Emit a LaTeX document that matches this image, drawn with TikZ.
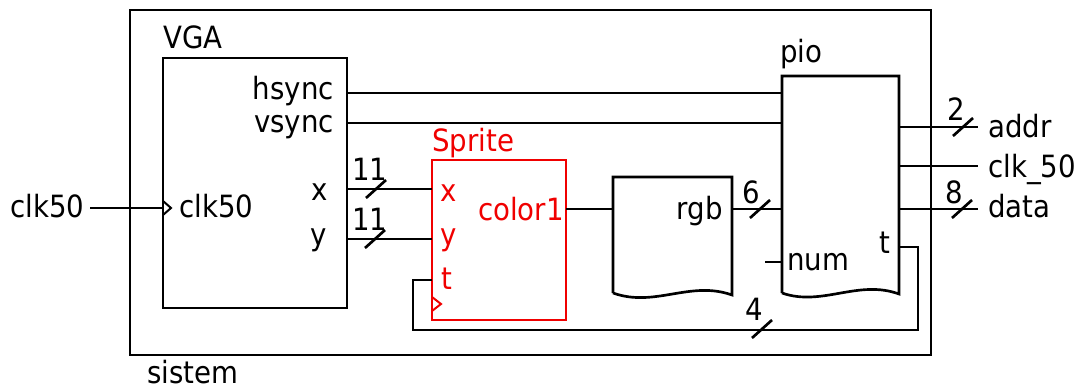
\documentclass[tikz,border=0pt]{standalone}
\usepackage{fontspec}
\setmainfont{DejaVu Sans}[FakeStretch=0.9]
\usetikzlibrary{fit}
\definecolor{spred}{RGB}{240,0,0}
\begin{document}
\begin{tikzpicture}[x=0.75pt,y=-0.75pt,
  wire/.style={line width=2pt},
  blk/.style={draw, line width=2pt, inner sep=0pt},
  lbl/.style={inner sep=0pt, font=\fontsize{23}{27}\selectfont},
  slash/.style={line width=2pt}]
\useasboundingbox (0,0) rectangle (1084,389);
% ---------- blocks ----------
\coordinate (sys-nw) at (130,10); \coordinate (sys-se) at (931,355);
\node[blk, line width=2.2pt, fit=(sys-nw)(sys-se)] (sys) {};
\coordinate (vga-nw) at (163,58); \coordinate (vga-se) at (347,308);
\node[blk, fit=(vga-nw)(vga-se)] (vga) {};
\coordinate (spr-nw) at (432,160); \coordinate (spr-se) at (566,320);
\node[blk, draw=spred, fit=(spr-nw)(spr-se)] (spr) {};
% memory block rgb
\coordinate (rgb-nw) at (613,177); \coordinate (rgb-ne) at (732,177);
\coordinate (rgb-sw) at (613,293); \coordinate (rgb-se) at (732,295);
\draw[wire, line join=miter] (rgb-sw) -- (rgb-nw) -- (rgb-ne) -- (rgb-se)
  .. controls (690,280) and (655,308) .. (rgb-sw);
% pio block
\coordinate (pio-nw) at (782,76); \coordinate (pio-ne) at (899,76);
\coordinate (pio-sw) at (782,293); \coordinate (pio-se) at (899,294);
\draw[wire, line join=miter] (pio-sw) -- (pio-nw) -- (pio-ne) -- (pio-se)
  .. controls (858,279) and (822,307) .. (pio-sw);
% ---------- labels ----------
\node[lbl, anchor=base west] (t-sys) at (147,383) {sistem};
\node[lbl, anchor=base west] (t-vga) at (163,48) {VGA};
\node[lbl, anchor=base west] (t-clkin) at (10,217) {clk50};
\node[lbl, anchor=base west] (t-clk) at (179,217) {clk50};
\node[lbl, anchor=base east] (t-hs) at (334,99) {hsync};
\node[lbl, anchor=base east] (t-vs) at (334,132) {vsync};
\node[lbl, anchor=base] (t-x) at (320,200) {x};
\node[lbl, anchor=base] (t-y) at (319,245) {y};
\node[lbl, anchor=base west] (t-11a) at (352,180) {11};
\node[lbl, anchor=base west] (t-11b) at (352,230) {11};
\node[lbl, anchor=base west, text=spred] (t-spr) at (432,151) {Sprite};
\node[lbl, anchor=base west, text=spred] (t-sx) at (440,201) {x};
\node[lbl, anchor=base west, text=spred] (t-sy) at (440,245) {y};
\node[lbl, anchor=base west, text=spred] (t-st) at (441,289) {t};
\node[lbl, anchor=base east, text=spred] (t-col) at (564,220) {color1};
\node[lbl, anchor=base east] (t-rgb) at (723,219) {rgb};
\node[lbl, anchor=base west] (t-6) at (742,203) {6};
\node[lbl, anchor=base west] (t-pio) at (780,62) {pio};
\node[lbl, anchor=base west] (t-num) at (787,270) {num};
\node[lbl, anchor=base east] (t-pt) at (891,253) {t};
\node[lbl, anchor=base west] (t-2) at (947,120) {2};
\node[lbl, anchor=base west] (t-8) at (945,203) {8};
\node[lbl, anchor=base west] (t-4) at (745,320) {4};
\node[lbl, anchor=base west] (t-addr) at (988,137) {addr};
\node[lbl, anchor=base west] (t-c50) at (988,177) {clk\_50};
\node[lbl, anchor=base west] (t-data) at (988,217) {data};
% ---------- ports ----------
\coordinate (in-clk) at (90,208);  \coordinate (vga-clk) at (163,208);
\coordinate (vga-hs) at (347,93);  \coordinate (pio-hs) at (782,93);
\coordinate (vga-vs) at (347,123); \coordinate (pio-vs) at (782,123);
\coordinate (vga-x) at (347,189);  \coordinate (spr-x) at (432,189);
\coordinate (vga-y) at (347,239);  \coordinate (spr-y) at (432,239);
\coordinate (spr-col) at (566,209); \coordinate (rgb-in) at (613,209);
\coordinate (rgb-out) at (732,209); \coordinate (pio-rgb) at (782,209);
\coordinate (num-end) at (765,262); \coordinate (pio-num) at (782,262);
\coordinate (pio-addr) at (899,127); \coordinate (o-addr) at (978,127);
\coordinate (pio-c50) at (899,166);  \coordinate (o-c50) at (978,166);
\coordinate (pio-data) at (899,209); \coordinate (o-data) at (978,209);
\coordinate (pio-t) at (899,247); \coordinate (spr-t) at (432,280);
\coordinate (lp-a) at (918,247); \coordinate (lp-b) at (918,330);
\coordinate (lp-c) at (413,330); \coordinate (lp-d) at (413,280);
% ---------- wires ----------
\draw[wire] (in-clk) -- (vga-clk);
\draw[wire] (vga-hs) -- (pio-hs);
\draw[wire] (vga-vs) -- (pio-vs);
\draw[wire] (vga-x) -- (spr-x);
\draw[wire] (vga-y) -- (spr-y);
\draw[wire] (spr-col) -- (rgb-in);
\draw[wire] (rgb-out) -- (pio-rgb);
\draw[wire] (num-end) -- (pio-num);
\draw[wire] (pio-addr) -- (o-addr);
\draw[wire] (pio-c50) -- (o-c50);
\draw[wire] (pio-data) -- (o-data);
\draw[wire] (pio-t) -- (lp-a) -- (lp-b) -- (lp-c) -- (lp-d) -- (spr-t);
% clock triangles
\draw[line width=1.5pt] (163,201) -- (171,208) -- (163,215);
\draw[line width=1.5pt, spred] (432,297) -- (441,304) -- (432,311);
% bus slashes
\coordinate (b-x) at (376,189); \coordinate (b-y) at (375,239);
\coordinate (b-6) at (760,209); \coordinate (b-2) at (963,127);
\coordinate (b-8) at (962,209); \coordinate (b-4) at (762,329);
\foreach \b in {b-x,b-y,b-6,b-2,b-8,b-4}
  \draw[slash] ([shift={(-10,9)}]\b) -- ([shift={(10,-9)}]\b);
\end{tikzpicture}
\end{document}
